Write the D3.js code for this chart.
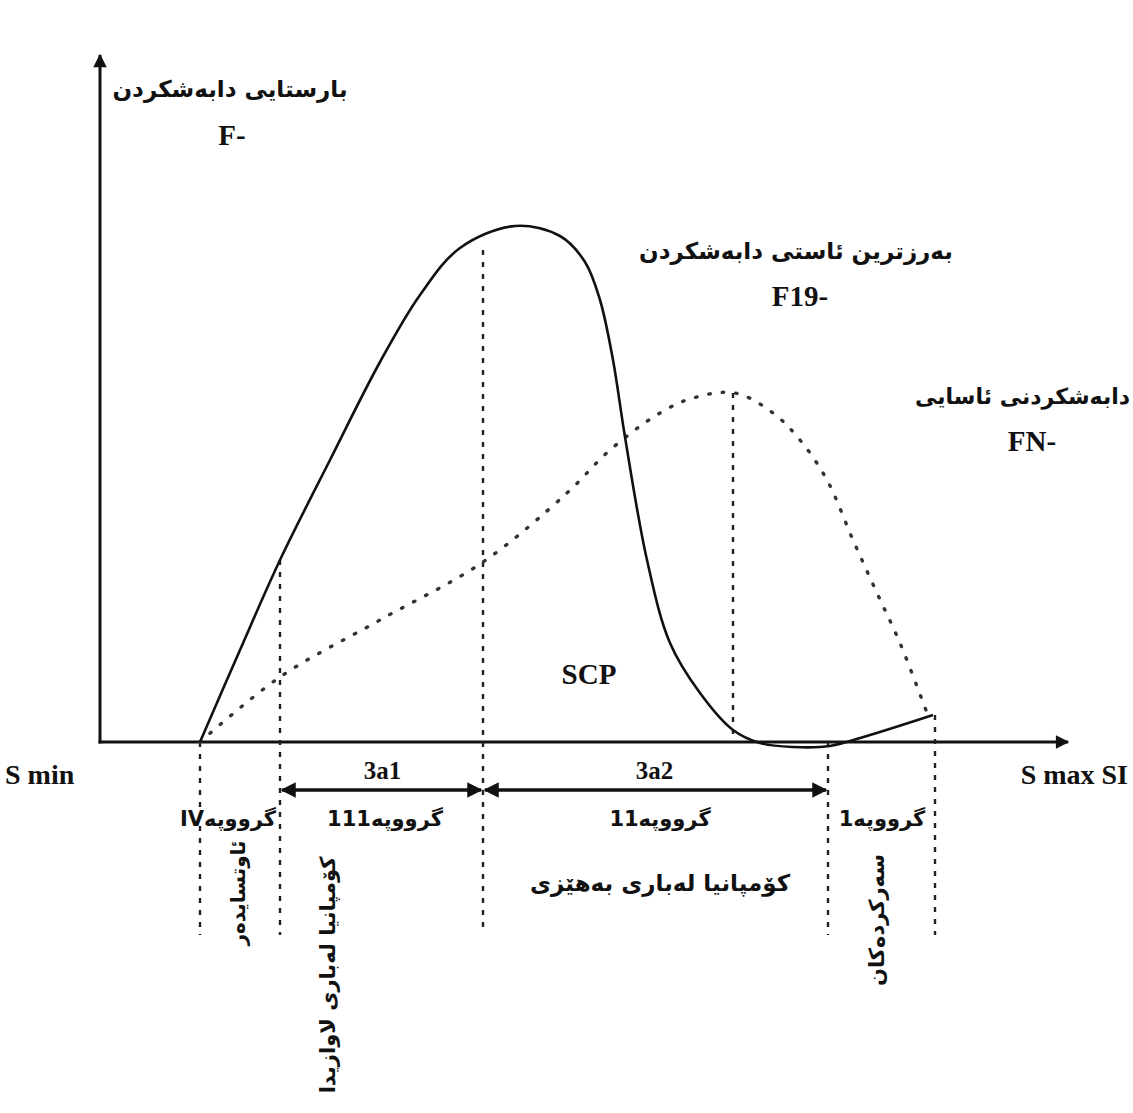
<!DOCTYPE html>
<meta charset="utf-8">
<style>
    body { margin: 0; background: #fff; }
    .lat { font-family: "Liberation Serif", serif; font-weight: bold; fill: #111; }
    .ar { font-family: "DejaVu Sans", sans-serif; font-weight: bold; fill: #111; }
</style>
<svg width="1133" height="1113"></svg>
<script src="https://d3js.org/d3.v7.min.js"></script>
<script>

    // highest distribution level curve (F19)
    var peakX = [10, 14, 18, 23, 28, 32, 36, 41.5, 46, 48.5, 50, 51.3, 52.5, 54.7, 57, 60, 63.3, 66, 69.3, 73, 77, 83.3];
    var peakY = [0, 9.2, 18.2, 28.2, 38, 44.7, 49.4, 51.6, 50.6, 48, 44.2, 38.2, 30.5, 18.2, 9.9, 4.9, 1.2, -0.1, -0.5, -0.4, 0.7, 2.7];

    // normal distribution curve (FN)
    var normX = [10, 18, 28, 38.3, 46.7, 51, 56, 59.3, 63.5, 67.3, 70, 72.7, 75.3, 77.7, 80, 82.7];
    var normY = [0, 6.5, 12.2, 18, 24.9, 29.2, 32.9, 34.4, 34.9, 32.9, 30.2, 26.2, 20.2, 14.9, 9.9, 2.9];

    // group boundaries and dashed line extents
    var bounds = [10, 18, 38.3, 63.3, 72.8, 83.5];
    var boundTop = [0, 18.2, 49.2, 34.9, 0, 2.7];
    var boundBottom = [-19.3, -19.3, -18.8, 0, -19.3, -19.3];

    // spans
    var spanFrom = [18, 38.3];
    var spanTo = [38.3, 72.8];
    var spanLabels = ["3a1", "3a2"];

    var groupLabels = ["IVگرووپە", "گرووپە111", "گرووپە11", "گرووپە1"];
    var groupPos = [17.6, 28.5, 56, 78.2];
    var groupAnchor = ["end", "middle", "middle", "middle"];

    var svg = d3.select("svg");

    var x = d3.scaleLinear().domain([0, 96.8]).range([100, 1068]),
        y = d3.scaleLinear().domain([0, 68.7]).range([742, 55]);

    var defs = svg.append("defs");
    defs.append("marker")
        .attr("id", "arr")
        .attr("viewBox", "0 0 10 10")
        .attr("refX", 9).attr("refY", 5)
        .attr("markerWidth", 5.5).attr("markerHeight", 4.5)
        .attr("markerUnits", "strokeWidth")
        .attr("orient", "auto-start-reverse")
        .append("path")
        .attr("d", "M0,0L10,5L0,10z")
        .attr("fill", "#111");

    // axes
    svg.append("line")
        .attr("x1", x(0)).attr("y1", y(0) + 1.5)
        .attr("x2", x(0)).attr("y2", y(68.7))
        .attr("stroke", "#111").attr("stroke-width", 3)
        .attr("marker-end", "url(#arr)");
    svg.append("line")
        .attr("x1", x(0) - 1.5).attr("y1", y(0))
        .attr("x2", x(96.8)).attr("y2", y(0))
        .attr("stroke", "#111").attr("stroke-width", 3)
        .attr("marker-end", "url(#arr)");

    // dashed boundaries
    svg.selectAll(".bound")
        .data(bounds)
        .enter().append("line")
        .attr("class", "bound")
        .attr("x1", function(d) { return x(d); })
        .attr("x2", function(d) { return x(d); })
        .attr("y1", function(d, i) { return y(boundTop[i]); })
        .attr("y2", function(d, i) { return y(boundBottom[i]); })
        .attr("stroke", "#222").attr("stroke-width", 2.4)
        .attr("stroke-dasharray", "5,7");

    var line = d3.line()
        .x(function(d) { return x(d[0]); })
        .y(function(d) { return y(d[1]); })
        .curve(d3.curveCatmullRom.alpha(0.5));

    svg.append("path")
        .datum(normX.map(function(v, i) { return [v, normY[i]]; }))
        .attr("d", line)
        .attr("fill", "none")
        .attr("stroke", "#333").attr("stroke-width", 3.4)
        .attr("stroke-linecap", "round")
        .attr("stroke-dasharray", "1.5,12");

    svg.append("path")
        .datum(peakX.map(function(v, i) { return [v, peakY[i]]; }))
        .attr("d", line)
        .attr("fill", "none")
        .attr("stroke", "#111").attr("stroke-width", 2.6);

    // span arrows
    svg.selectAll(".span")
        .data(spanFrom)
        .enter().append("line")
        .attr("class", "span")
        .attr("x1", function(d) { return x(d) + 2; })
        .attr("x2", function(d, i) { return x(spanTo[i]) - 2; })
        .attr("y1", y(-4.8)).attr("y2", y(-4.8))
        .attr("stroke", "#111").attr("stroke-width", 3.4)
        .attr("marker-start", "url(#arr)")
        .attr("marker-end", "url(#arr)");

    svg.selectAll(".spanlab")
        .data(spanLabels)
        .enter().append("text")
        .attr("class", "lat")
        .attr("x", function(d, i) { return x((spanFrom[i] + spanTo[i]) / 2) - (i ? 1 : -1); })
        .attr("y", y(-3.7))
        .attr("text-anchor", "middle")
        .attr("font-size", 25)
        .text(function(d) { return d; });

    svg.selectAll(".grp")
        .data(groupLabels)
        .enter().append("text")
        .attr("class", "ar")
        .attr("x", function(d, i) { return x(groupPos[i]); })
        .attr("y", y(-8.4))
        .attr("text-anchor", function(d, i) { return groupAnchor[i]; })
        .attr("font-size", 21)
        .text(function(d) { return d; });

    // titles
    svg.append("text").attr("class", "ar")
        .attr("x", 230).attr("y", 97).attr("text-anchor", "middle")
        .attr("font-size", 23).text("بارستایی دابەشکردن");
    svg.append("text").attr("class", "lat")
        .attr("x", 232).attr("y", 145).attr("text-anchor", "middle")
        .attr("font-size", 29).text("F-");

    svg.append("text").attr("class", "ar")
        .attr("x", 796).attr("y", 259).attr("text-anchor", "middle")
        .attr("font-size", 23).text("بەرزترین ئاستی دابەشکردن");
    svg.append("text").attr("class", "lat")
        .attr("x", 800).attr("y", 306).attr("text-anchor", "middle")
        .attr("font-size", 29).text("F19-");

    svg.append("text").attr("class", "ar")
        .attr("x", 1130).attr("y", 404).attr("text-anchor", "end")
        .attr("font-size", 22).text("دابەشکردنی ئاسایی");
    svg.append("text").attr("class", "lat")
        .attr("x", 1032).attr("y", 451).attr("text-anchor", "middle")
        .attr("font-size", 29).text("FN-");

    svg.append("text").attr("class", "lat")
        .attr("x", 589).attr("y", 684).attr("text-anchor", "middle")
        .attr("font-size", 29).text("SCP");

    svg.append("text").attr("class", "lat")
        .attr("x", 5).attr("y", 784)
        .attr("font-size", 28).text("S min");
    svg.append("text").attr("class", "lat")
        .attr("x", 1128).attr("y", 784).attr("text-anchor", "end")
        .attr("font-size", 28).text("S max SI");

    svg.append("text").attr("class", "ar")
        .attr("x", 660).attr("y", 891).attr("text-anchor", "middle")
        .attr("font-size", 23).text("کۆمپانیا لەباری بەهێزی");

    // rotated labels
    var vert = [
        {t: "ئاوتسایدەر", x: 238, y: 893, s: 20},
        {t: "کۆمپانیا لەباری لاوازیدا", x: 328, y: 975, s: 21},
        {t: "سەرکردەکان", x: 877, y: 920, s: 21}
    ];
    svg.selectAll(".vert")
        .data(vert)
        .enter().append("text")
        .attr("class", "ar")
        .attr("text-anchor", "middle")
        .attr("font-size", function(d) { return d.s; })
        .attr("transform", function(d) { return "translate(" + d.x + "," + d.y + ") rotate(-90)"; })
        .attr("dy", "0.35em")
        .text(function(d) { return d.t; });
</script>
